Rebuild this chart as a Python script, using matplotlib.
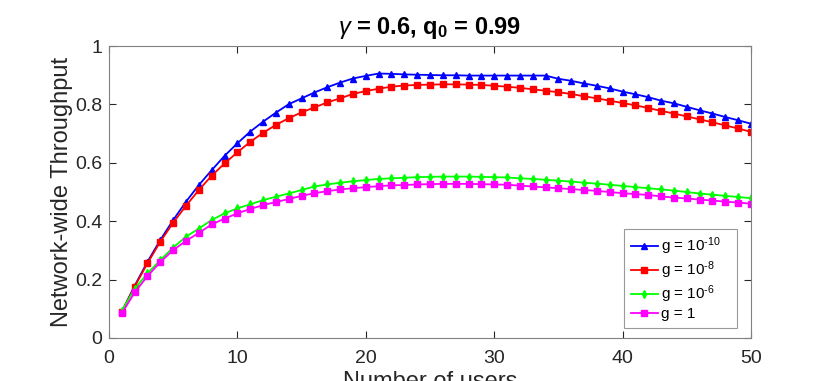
import numpy as np
import matplotlib.pyplot as plt

plt.rcParams['font.family'] = ['Liberation Sans', 'DejaVu Sans']
plt.rcParams['mathtext.fontset'] = 'custom'
plt.rcParams['mathtext.rm'] = 'Liberation Sans'
plt.rcParams['mathtext.it'] = 'Liberation Sans:italic'
plt.rcParams['mathtext.bf'] = 'Liberation Sans:bold'

users = np.arange(1, 51)

g_1e10 = [0.090, 0.179, 0.261, 0.336, 0.404, 0.467, 0.524, 0.575, 0.624, 0.667,
          0.707, 0.741, 0.772, 0.801, 0.821, 0.841, 0.859, 0.875, 0.889, 0.898,
          0.906, 0.905, 0.903, 0.902, 0.901, 0.900, 0.900, 0.899, 0.899, 0.899,
          0.899, 0.899, 0.899, 0.899, 0.888, 0.881, 0.872, 0.864, 0.855, 0.844,
          0.835, 0.825, 0.813, 0.804, 0.792, 0.780, 0.769, 0.757, 0.746, 0.734]
g_1e8 = [0.090, 0.176, 0.256, 0.330, 0.395, 0.453, 0.507, 0.556, 0.598, 0.636,
         0.672, 0.703, 0.730, 0.753, 0.773, 0.790, 0.807, 0.821, 0.836, 0.846,
         0.854, 0.861, 0.865, 0.867, 0.868, 0.869, 0.869, 0.868, 0.867, 0.864,
         0.861, 0.857, 0.852, 0.847, 0.842, 0.836, 0.828, 0.821, 0.813, 0.805,
         0.797, 0.788, 0.778, 0.769, 0.759, 0.749, 0.739, 0.728, 0.718, 0.706]
g_1e6 = [0.093, 0.169, 0.221, 0.267, 0.310, 0.347, 0.375, 0.404, 0.427, 0.444,
         0.458, 0.472, 0.484, 0.495, 0.507, 0.519, 0.526, 0.532, 0.537, 0.541,
         0.545, 0.547, 0.549, 0.551, 0.552, 0.553, 0.553, 0.553, 0.552, 0.551,
         0.550, 0.547, 0.545, 0.542, 0.539, 0.536, 0.532, 0.529, 0.525, 0.521,
         0.517, 0.513, 0.509, 0.505, 0.500, 0.495, 0.491, 0.487, 0.483, 0.479]
g_1 = [0.084, 0.156, 0.212, 0.260, 0.301, 0.333, 0.360, 0.389, 0.409, 0.427,
       0.442, 0.455, 0.466, 0.476, 0.487, 0.496, 0.503, 0.509, 0.513, 0.517,
       0.520, 0.523, 0.524, 0.526, 0.527, 0.528, 0.528, 0.528, 0.527, 0.526,
       0.525, 0.522, 0.519, 0.516, 0.513, 0.510, 0.507, 0.504, 0.500, 0.496,
       0.493, 0.490, 0.485, 0.481, 0.478, 0.474, 0.471, 0.467, 0.464, 0.460]

series = [
    (g_1e10, r'g = 10$^{\text{-10}}$', 'blue', '^'),
    (g_1e8, r'g = 10$^{\text{-8}}$', 'red', 's'),
    (g_1e6, r'g = 10$^{\text{-6}}$', '#00ff00', 'd'),
    (g_1, 'g = 1', 'magenta', 's'),
]

fig = plt.figure(figsize=(8.3, 3.81), dpi=100)
ax = fig.add_axes([0.1313, 0.1129, 0.7735, 0.7661])

for vals, lab, col, mk in series:
    ax.plot(users, vals, color=col, marker=mk, markersize=3.8, linewidth=1.3, label=lab)

ax.set_xlim(0, 50)
ax.set_ylim(0, 1)
ax.set_xticks([0, 10, 20, 30, 40, 50])
ax.set_yticks([0, 0.2, 0.4, 0.6, 0.8, 1])
ax.set_yticklabels(['0', '0.2', '0.4', '0.6', '0.8', '1'])
ax.tick_params(direction='in', top=True, right=True, length=5, width=0.8,
               labelsize=14, colors='#262626', pad=5)
ax.tick_params(axis='x', pad=8.5)
for sp in ax.spines.values():
    sp.set_color('#808080')
    sp.set_linewidth(0.8)

ax.set_xlabel('Number of users', fontsize=17, color='#262626', labelpad=3)
ax.set_ylabel('Network-wide Throughput', fontsize=17, color='#262626', labelpad=1)
ax.set_title(r'$\gamma$ = 0.6, q$_\mathbf{0}$ = 0.99', fontsize=17, fontweight='bold', pad=9)

leg = ax.legend(loc='lower left', bbox_to_anchor=(0.802, 0.034, 0.176, 0.3),
                mode='expand', fontsize=11, frameon=True, fancybox=False,
                handlelength=1.8, handletextpad=0.15, borderpad=0.45,
                labelspacing=0.15, borderaxespad=0)
leg.get_frame().set_edgecolor('#808080')
leg.get_frame().set_linewidth(0.8)

fig.savefig('out.png', dpi=100)
